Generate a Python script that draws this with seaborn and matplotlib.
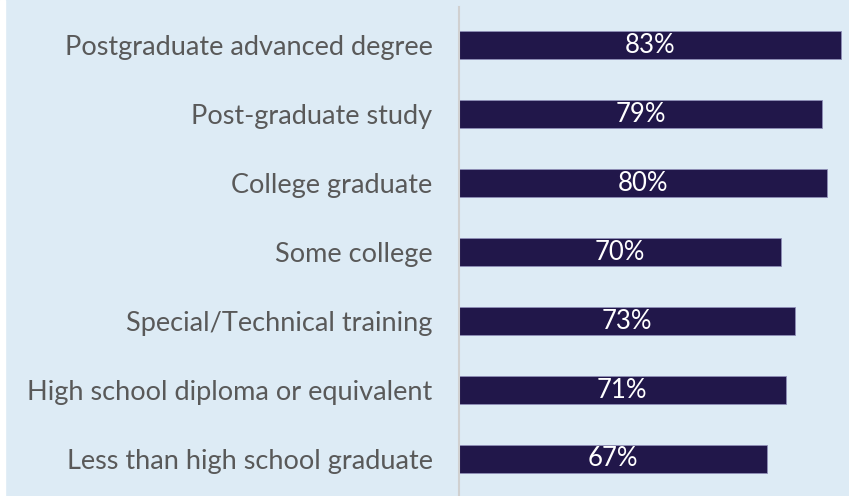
import matplotlib
matplotlib.use('Agg')
import pandas as pd
import matplotlib.pyplot as plt
import seaborn as sns

categories = [
    'Postgraduate advanced degree',
    'Post-graduate study',
    'College graduate',
    'Some college',
    'Special/Technical training',
    'High school diploma or equivalent',
    'Less than high school graduate',
]
values = [83, 79, 80, 70, 73, 71, 67]

df = pd.DataFrame({'education': categories, 'pct': values})

bg = '#DDEBF5'
bar_color = '#21174A'

sns.set_theme(style='white')
plt.rcParams['font.family'] = ['Lato', 'DejaVu Sans']

fig = plt.figure(figsize=(8.49, 4.96), dpi=100, facecolor=bg)
ax = fig.add_axes([459 / 849, 2.5 / 496, 390 / 849, 483 / 496])
ax.set_facecolor(bg)

sns.barplot(data=df, x='pct', y='education', color=bar_color, width=0.4,
            saturation=1, ax=ax, edgecolor='#8F8FB8', linewidth=0.6)

ax.set_xlim(0, 84.8)
ax.set_ylim(6.5, -0.5)
ax.set_xlabel('')
ax.set_ylabel('')
ax.set_xticks([])
ax.tick_params(axis='y', length=0, pad=19, labelsize=19.5, labelcolor='#595959')

for i, v in enumerate(values):
    ax.text(v / 2, i, f'{v}%', ha='center', va='center', color='white', fontsize=18.5)

for side in ['top', 'right', 'bottom']:
    ax.spines[side].set_visible(False)
ax.spines['left'].set_color('#D0D0D0')
ax.spines['left'].set_linewidth(1.5)
ax.spines['left'].set_bounds(6.7, -0.55)

# white strip on the far left like the original slide crop
fig.patches.append(plt.Rectangle((0, 0), 5 / 849, 1, transform=fig.transFigure,
                                 color='white', zorder=-1))

plt.savefig('out.png', dpi=100, facecolor=bg)
